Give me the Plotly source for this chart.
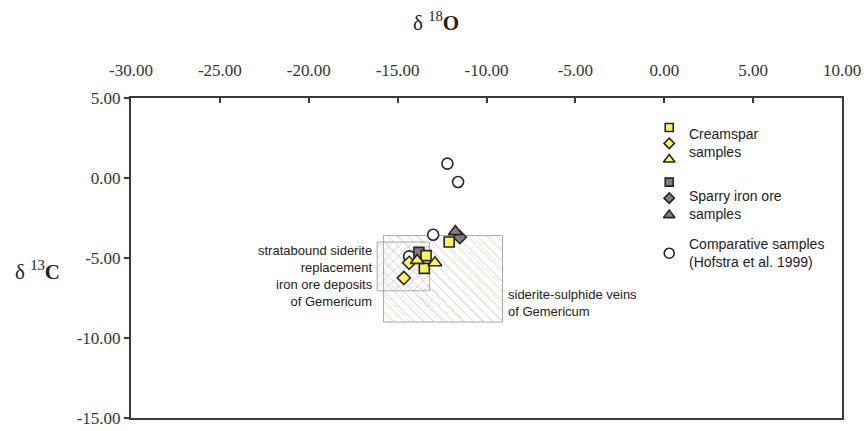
import plotly.graph_objects as go

# ---------------- data ----------------
cream_sq_x = [-12.1, -13.4, -13.5]
cream_sq_y = [-4.0, -4.85, -5.65]
cream_di_x = [-14.35, -14.65]
cream_di_y = [-5.3, -6.25]
cream_tri_x = [-13.9, -12.9]
cream_tri_y = [-5.15, -5.3]

sparry_sq_x = [-13.8]
sparry_sq_y = [-4.65]
sparry_di_x = [-11.5]
sparry_di_y = [-3.7]
sparry_tri_x = [-11.75]
sparry_tri_y = [-3.35]

comp_x = [-12.2, -11.6, -13.0, -14.35]
comp_y = [0.9, -0.25, -3.55, -4.9]

# field boxes (x range, y range)
veins_x = [-15.8, -9.1]
veins_y = [-9.0, -3.6]
strata_x = [-16.15, -13.2]
strata_y = [-7.05, -4.0]

x_tickvals = [-30, -25, -20, -15, -10, -5, 0, 5, 10]
x_ticktext = ["-30.00", "-25.00", "-20.00", "-15.00", "-10.00", "-5.00", "0.00", "5.00", "10.00"]
y_tickvals = [5, 0, -5, -10, -15]
y_ticktext = ["5.00", "0.00", "-5.00", "-10.00", "-15.00"]

# ---------------- styles ----------------
YEL = "#fff35a"
GRY = "#7f7f7f"
EDGE = "#262626"
AX = "#3a3a3a"
SERIF = "Liberation Serif"
SANS = "Liberation Sans"


def rect(xr, yr):
    return [xr[0], xr[1], xr[1], xr[0], xr[0]], [yr[0], yr[0], yr[1], yr[1], yr[0]]


def hatch(xs, ys, shape, color, size, line_color, solidity=0.14):
    return go.Scatter(x=xs, y=ys, mode="lines", fill="toself",
                      line=dict(color=line_color, width=1),
                      fillcolor="rgba(255,255,255,0)",
                      fillpattern=dict(shape=shape, fgcolor=color, bgcolor="rgba(255,255,255,0)",
                                       size=size, solidity=solidity),
                      hoverinfo="skip", showlegend=False)


fig = go.Figure()

bx, by = rect(veins_x, veins_y)
fig.add_trace(hatch(bx, by, "\\", "#ece3a8", 13, "rgba(0,0,0,0)", 0.1))
fig.add_trace(hatch(bx, by, "\\", "#98a0bc", 7, "#a8a8a8"))
sx, sy = rect(strata_x, strata_y)
fig.add_trace(hatch(sx, sy, "/", "#a4aac0", 7, "#a8a8a8"))


def pts(x, y, symbol, color, size, xa="x", ya="y"):
    return go.Scatter(x=x, y=y, mode="markers", xaxis=xa, yaxis=ya,
                      marker=dict(symbol=symbol, color=color, size=size,
                                  line=dict(color=EDGE, width=1.6)),
                      showlegend=False, hoverinfo="x+y")


fig.add_trace(pts(comp_x, comp_y, "circle", "white", 11))
fig.add_trace(pts(sparry_sq_x, sparry_sq_y, "square", GRY, 10))
fig.add_trace(pts(sparry_di_x, sparry_di_y, "diamond", GRY, 10))
fig.add_trace(pts(sparry_tri_x, sparry_tri_y, "triangle-up", GRY, 12))
fig.add_trace(pts(cream_sq_x, cream_sq_y, "square", YEL, 10))
fig.add_trace(pts(cream_di_x, cream_di_y, "diamond", YEL, 10))
fig.add_trace(pts(cream_tri_x, cream_tri_y, "triangle-up", YEL, 12))

# ---------------- custom legend (on an overlay 0..1 axis) ----------------
lx = 0.757
fig.add_trace(pts([lx], [0.908], "square", YEL, 8, "x2", "y2"))
fig.add_trace(pts([lx], [0.858], "diamond", YEL, 8, "x2", "y2"))
fig.add_trace(pts([lx], [0.808], "triangle-up", YEL, 10, "x2", "y2"))
fig.add_trace(pts([lx], [0.737], "square", GRY, 8, "x2", "y2"))
fig.add_trace(pts([lx], [0.687], "diamond", GRY, 8, "x2", "y2"))
fig.add_trace(pts([lx], [0.634], "triangle-up", GRY, 10, "x2", "y2"))
fig.add_trace(pts([lx], [0.515], "circle", "white", 10, "x2", "y2"))

ann = []
tx = 0.782
for txt, yy in [("Creamspar<br>samples", 0.858),
                ("Sparry iron ore<br>samples", 0.667),
                ("Comparative samples<br>(Hofstra et al. 1999)", 0.516)]:
    ann.append(dict(x=tx, y=yy, xref="paper", yref="paper", text=txt, showarrow=False,
                    xanchor="left", yanchor="middle", align="left",
                    font=dict(family=SANS, size=14, color="#222")))

ann.append(dict(x=strata_x[0], y=-6.1, xref="x", yref="y", xshift=-2,
                text="stratabound siderite<br>replacement<br>iron ore deposits<br>of Gemericum",
                showarrow=False, xanchor="right", yanchor="middle", align="right",
                font=dict(family=SANS, size=13, color="#222")))
ann.append(dict(x=veins_x[1], y=-7.8, xref="x", yref="y", xshift=3,
                text="siderite-sulphide veins<br>of Gemericum",
                showarrow=False, xanchor="left", yanchor="middle", align="left",
                font=dict(family=SANS, size=13, color="#222")))

ann.append(dict(x=0.429, y=1.2375, xref="paper", yref="paper",
                text="δ <sup>18</sup><b>O</b>", showarrow=False,
                xanchor="center", yanchor="middle",
                font=dict(family=SERIF, size=21, color="#222")))
ann.append(dict(x=-0.131, y=0.4625, xref="paper", yref="paper",
                text="δ <sup>13</sup><b>C</b>", showarrow=False,
                xanchor="center", yanchor="middle",
                font=dict(family=SERIF, size=21, color="#222")))

fig.update_layout(
    width=864, height=431,
    margin=dict(l=131, r=22, t=98, b=13, autoexpand=False),
    paper_bgcolor="white", plot_bgcolor="white",
    showlegend=False,
    annotations=ann,
    xaxis=dict(range=[-30, 10], side="top", tickvals=x_tickvals, ticktext=x_ticktext,
               ticks="inside", ticklen=5, tickwidth=1.5, tickcolor=AX,
               showline=True, linecolor=AX, linewidth=2, mirror=True,
               showgrid=False, zeroline=False, ticklabelstandoff=13, automargin=False,
               tickfont=dict(family=SERIF, size=17, color="#333")),
    yaxis=dict(range=[-15, 5], tickvals=y_tickvals, ticktext=y_ticktext,
               ticks="outside", ticklen=5, tickwidth=1.5, tickcolor=AX,
               showline=True, linecolor=AX, linewidth=2, mirror=True,
               showgrid=False, zeroline=False, automargin=False,
               tickfont=dict(family=SERIF, size=17, color="#333")),
    xaxis2=dict(range=[0, 1], overlaying="x", anchor="y2", visible=False, fixedrange=True),
    yaxis2=dict(range=[0, 1], overlaying="y", anchor="x2", visible=False, fixedrange=True),
)

fig.write_html("out.html", config={"displayModeBar": False},
               post_script="document.body.style.margin='0';document.body.style.overflow='hidden';")
